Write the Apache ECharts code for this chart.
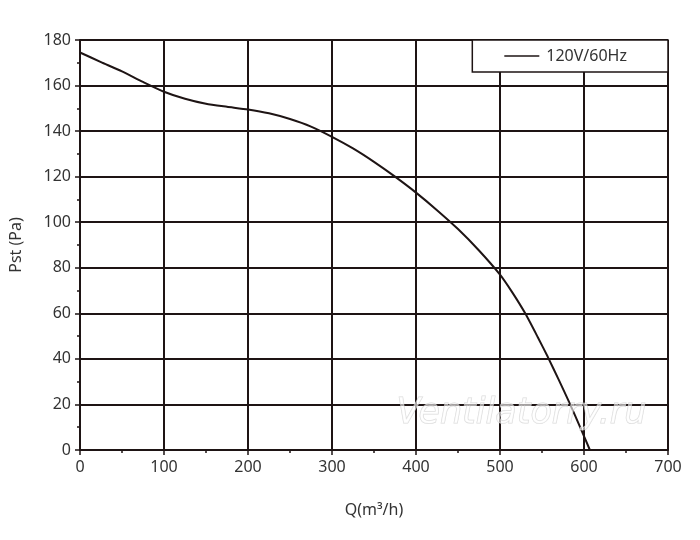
<!DOCTYPE html>
<html>
<head>
<meta charset="utf-8">
<script src="https://cdn.jsdelivr.net/npm/echarts@6/dist/echarts.min.js"></script>
<style>html,body{margin:0;padding:0;background:#fff}#c{width:700px;height:540px}</style>
</head>
<body>
<div id="c"></div>
<script>
const flowQ = [0, 25, 50, 75, 100, 125, 150, 175, 200, 225, 250, 275, 300, 325, 350, 375, 400, 425, 450, 475, 500, 515, 530, 545, 557, 570, 583, 595, 607];
const pressure = [174.5, 170.3, 166.2, 161.6, 157.3, 154.2, 152, 150.7, 149.5, 147.8, 145.3, 142, 137.5, 132.4, 126.5, 120, 113, 105.3, 97, 87.6, 77, 69, 60, 49.5, 40.8, 30.8, 20.5, 10.4, 0];
const seriesName = '120V/60Hz';
const xTicks = [0, 100, 200, 300, 400, 500, 600, 700];
const yTicks = [0, 20, 40, 60, 80, 100, 120, 140, 160, 180];

const ink = '#1e1414';
const chart = echarts.init(document.getElementById('c'));
chart.setOption({
  animation: false,
  textStyle: { fontFamily: 'Noto Sans' },
  grid: { left: 80, right: 32, top: 40, bottom: 90 },
  legend: {
    right: 32, top: 40,
    data: [seriesName],
    backgroundColor: '#fff',
    borderColor: ink, borderWidth: 1.5, borderRadius: 0,
    padding: [8, 41, 8, 32],
    itemWidth: 35, itemHeight: 14, itemGap: 10,
    icon: 'path://M0,0 L35,0 L35,1.5 L0,1.5 Z',
    textStyle: { fontSize: 16, color: '#333', fontFamily: 'Noto Sans', padding: [0, 0, 0, 2] }
  },
  xAxis: {
    type: 'value', min: 0, max: 700, interval: 100,
    name: 'Q(m³/h)', nameLocation: 'middle', nameGap: 52,
    nameTextStyle: { fontSize: 16, color: '#333' },
    axisLine: { show: true, lineStyle: { color: ink, width: 2 } },
    axisTick: { show: true, length: 5, lineStyle: { color: ink, width: 1.5 } },
    minorTick: { show: true, splitNumber: 2, length: 3, lineStyle: { color: ink, width: 1.5 } },
    axisLabel: { fontSize: 16, color: '#333', margin: 9 },
    splitLine: { show: true, lineStyle: { color: ink, width: 2 } }
  },
  yAxis: {
    type: 'value', min: 0, max: 180, interval: 20,
    name: 'Pst (Pa)', nameLocation: 'middle', nameGap: 56, nameRotate: 90,
    nameTextStyle: { fontSize: 16, color: '#333' },
    axisLine: { show: true, lineStyle: { color: ink, width: 2 } },
    axisTick: { show: true, length: 5, lineStyle: { color: ink, width: 1.5 } },
    minorTick: { show: true, splitNumber: 2, length: 3, lineStyle: { color: ink, width: 1.5 } },
    axisLabel: { fontSize: 16, color: '#333', margin: 9 },
    splitLine: { show: true, lineStyle: { color: ink, width: 2 } }
  },
  graphic: [{
    type: 'text', left: 396, top: 396, z: 100, silent: true,
    style: {
      text: 'Ventilatorry.ru', font: 'italic 35px "DejaVu Sans"',
      fill: 'rgba(255,255,255,0.6)', stroke: 'rgba(190,190,190,0.6)', lineWidth: 1
    }
  }],
  series: [{
    name: seriesName, type: 'line', smooth: 0.2, showSymbol: false,
    data: flowQ.map((q, i) => [q, pressure[i]]),
    lineStyle: { color: ink, width: 2 },
    itemStyle: { color: ink },
    z: 5
  }]
});
</script>
</body>
</html>
